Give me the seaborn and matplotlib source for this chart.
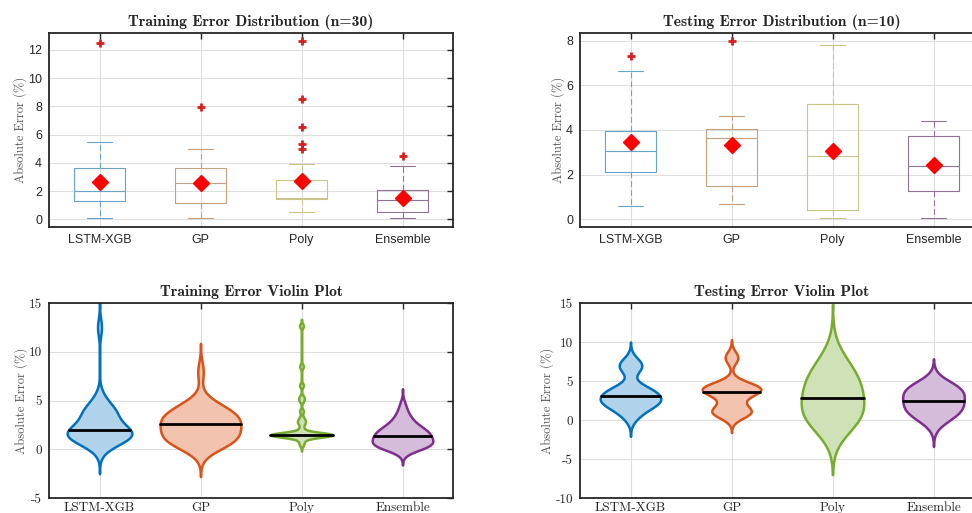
import numpy as np
import pandas as pd
import matplotlib
matplotlib.use("Agg")
import matplotlib.pyplot as plt
import seaborn as sns

models = ["LSTM-XGB", "GP", "Poly", "Ensemble"]

# absolute errors (%) per model, training set (n=30)
train_lstm = [0.1, 0.5, 0.8, 1.0, 1.1, 1.2, 1.25, 1.28, 1.36, 1.4, 1.5, 1.6, 1.75, 1.85, 1.97,
              2.03, 2.1, 2.3, 2.5, 2.8, 3.1, 3.5, 3.7, 3.8, 3.9, 4.0, 4.3, 4.8, 5.45, 12.5]
train_gp = [0.1, 0.3, 0.5, 0.7, 0.85, 0.95, 1.05, 1.1, 1.3, 1.4, 1.6, 1.8, 2.0, 2.3, 2.55,
            2.65, 2.7, 2.8, 2.9, 3.0, 3.2, 3.5, 3.7, 3.75, 3.85, 4.0, 4.2, 4.5, 5.0, 7.95]
train_poly = [0.5, 0.9, 1.2, 1.35, 1.4, 1.42, 1.44, 1.45, 1.46, 1.47, 1.48, 1.49, 1.49, 1.5, 1.5,
              1.5, 1.52, 1.55, 1.6, 1.8, 2.2, 2.7, 2.85, 3.2, 3.9, 5.0, 5.35, 6.55, 8.5, 12.65]
train_ens = [0.1, 0.15, 0.25, 0.3, 0.35, 0.4, 0.45, 0.48, 0.58, 0.7, 0.85, 1.0, 1.1, 1.2, 1.3,
             1.4, 1.5, 1.6, 1.7, 1.8, 1.9, 2.0, 2.07, 2.3, 2.5, 2.7, 3.0, 3.3, 3.75, 4.5]

# testing set (n=10)
test_lstm = [0.6, 1.9, 2.05, 2.25, 2.9, 3.2, 3.8, 4.0, 6.65, 7.3]
test_gp = [0.7, 1.1, 1.2, 2.4, 3.55, 3.75, 4.0, 4.07, 4.65, 8.0]
test_poly = [0.05, 0.2, 0.3, 0.7, 2.5, 3.2, 4.9, 5.25, 5.6, 7.8]
test_ens = [0.05, 0.9, 1.1, 1.7, 2.2, 2.6, 3.6, 3.8, 4.1, 4.4]

# kde bandwidths / violin widths
train_bw = [0.87, 0.97, 0.23, 0.57]
test_bw = [0.9, 0.77, 2.35, 1.15]
train_vw = [0.64, 0.8, 0.62, 0.6]
test_vw = [0.6, 0.58, 0.62, 0.61]

box_colors = ["#6aa3c8", "#c8a07e", "#c8c48a", "#8e7396"]
line_colors = ["#0072BD", "#D95319", "#77AC30", "#7E2F8E"]
fill_colors = ["#b0d2ea", "#f2c3ae", "#cfe2b7", "#d6bcdb"]


def to_long(arrays):
    return pd.DataFrame({
        "model": np.repeat(models, [len(a) for a in arrays]),
        "err": np.concatenate(arrays),
    })


df_train = to_long([train_lstm, train_gp, train_poly, train_ens])
df_test = to_long([test_lstm, test_gp, test_poly, test_ens])

sns.set_style("white")
plt.rcParams["axes.unicode_minus"] = False
plt.rcParams["font.family"] = ["Liberation Sans", "DejaVu Sans"]

SERIF = "cmr10"
SERIF_B = "cmb10"
DARK = "#262626"


def style_axes(ax, ylim, yticks, title, serif_ticks):
    ax.set_xlim(-0.5, 3.5)
    ax.set_ylim(*ylim)
    ax.set_yticks(yticks)
    ax.set_xticks(range(4))
    ax.set_xticklabels(models)
    ax.grid(True, color="#dedede", linewidth=0.8)
    ax.set_axisbelow(True)
    for s in ax.spines.values():
        s.set_color(DARK)
        s.set_linewidth(1.3)
    ax.tick_params(direction="in", top=True, right=True, length=4, width=1,
                   color=DARK, labelcolor=DARK, labelsize=9, pad=5)
    if serif_ticks:
        ax.tick_params(axis="x", pad=3)
        for lab in ax.get_xticklabels() + ax.get_yticklabels():
            lab.set_fontfamily(SERIF)
            lab.set_fontsize(9.5)
    ax.set_xlabel("")
    ax.set_ylabel("Absolute Error (%)", fontfamily=SERIF, fontsize=9, color="#555555", labelpad=1)
    ax.set_title(title, fontfamily=SERIF_B, fontsize=11.3, color=DARK, pad=5)


def draw_box(ax, df):
    sns.boxplot(data=df, x="model", y="err", hue="model", order=models, palette=box_colors,
                fill=False, width=0.5, linewidth=0.8, legend=False, whis=1.5,
                whiskerprops={"linestyle": (0, (5, 3))},
                flierprops={"marker": "+", "markeredgecolor": "#d81e1e", "markersize": 6,
                            "markeredgewidth": 2},
                showmeans=True,
                meanprops={"marker": "D", "markerfacecolor": "#ff0000", "markeredgecolor": "#ff0000",
                           "markersize": 8},
                ax=ax)


def draw_violins(ax, df, bws, widths):
    for i, m in enumerate(models):
        sub = df[df["model"] == m]
        factor = bws[i] / sub["err"].std()
        n0 = len(ax.lines)
        sns.violinplot(data=sub, x="model", y="err", order=models, color=fill_colors[i],
                       linecolor=line_colors[i], linewidth=1.8, saturation=1,
                       bw_method=factor, cut=3, gridsize=400, width=widths[i],
                       density_norm="width", inner="quart", ax=ax)
        new = ax.lines[n0:]
        # keep only the median line, solid black
        if len(new) == 3:
            new[0].remove()
            new[2].remove()
            new[1].set_linestyle("-")
            new[1].set_color("black")
            new[1].set_linewidth(2)


fig = plt.figure(figsize=(9.72, 5.13), dpi=100)
W, H = 972, 513
ax1 = fig.add_axes([49 / W, 1 - 227 / H, 404 / W, 194 / H])
ax2 = fig.add_axes([580 / W, 1 - 227 / H, 404 / W, 194 / H])
ax3 = fig.add_axes([49 / W, 1 - 498 / H, 404 / W, 195 / H])
ax4 = fig.add_axes([580 / W, 1 - 498 / H, 404 / W, 195 / H])

draw_box(ax1, df_train)
style_axes(ax1, (-0.55, 13.2), range(0, 13, 2), "Training Error Distribution (n=30)", False)

draw_box(ax2, df_test)
style_axes(ax2, (-0.35, 8.35), range(0, 9, 2), "Testing Error Distribution (n=10)", False)

draw_violins(ax3, df_train, train_bw, train_vw)
style_axes(ax3, (-5, 15), range(-5, 16, 5), "Training Error Violin Plot", True)

draw_violins(ax4, df_test, test_bw, test_vw)
style_axes(ax4, (-10, 15), range(-10, 16, 5), "Testing Error Violin Plot", True)

fig.savefig("out.png", dpi=100)
